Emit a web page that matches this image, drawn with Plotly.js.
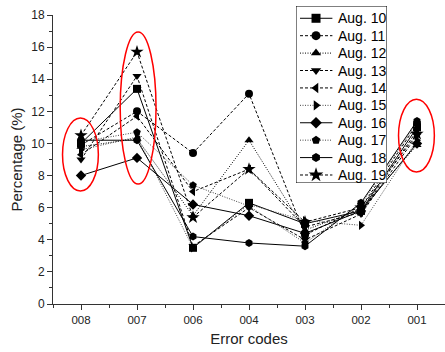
<!DOCTYPE html>
<html>
<head>
<meta charset="utf-8">
<script src="https://cdn.plot.ly/plotly-3.0.1.min.js"></script>
<style>html,body{margin:0;padding:0;background:#fff;}#chart{width:445px;height:352px;}</style>
</head>
<body>
<div id="chart"></div>
<script>
const categories = ["008", "007", "006", "004", "003", "002", "001"];
const seriesNames = ["Aug. 10", "Aug. 11", "Aug. 12", "Aug. 13", "Aug. 14", "Aug. 15", "Aug. 16", "Aug. 17", "Aug. 18", "Aug. 19"];
const aug10 = [10.0, 13.4, 3.5, 6.3, 5.0, 5.8, 11.0];
const aug11 = [9.9, 12.0, 9.4, 13.1, 4.3, 6.0, 11.2];
const aug12 = [9.8, 10.3, 5.5, 10.2, 4.6, 5.9, 9.9];
const aug13 = [9.0, 14.2, 3.6, 6.0, 4.0, 5.6, 10.5];
const aug14 = [9.3, 11.7, 7.0, 8.4, 4.8, 5.7, 10.8];
const aug15 = [9.6, 10.4, 3.5, 6.2, 5.2, 4.9, 10.2];
const aug16 = [8.0, 9.1, 6.2, 5.5, 4.4, 5.8, 10.0];
const aug17 = [10.1, 10.7, 7.4, 6.1, 3.8, 6.2, 11.3];
const aug18 = [10.2, 10.2, 4.2, 3.8, 3.6, 6.3, 11.4];
const aug19 = [10.5, 15.7, 5.4, 8.4, 5.1, 6.0, 10.6];
const allSeries = [aug10, aug11, aug12, aug13, aug14, aug15, aug16, aug17, aug18, aug19];

const symbols = ["square", "circle", "triangle-up", "triangle-down", "triangle-left", "triangle-right", "diamond", "pentagon", "hexagon", "star"];
const dashes = ["solid", "3px,2px", "1px,1.5px", "3px,2px", "3px,2px", "1px,1.5px", "solid", "1px,1.5px", "solid", "3px,2px"];
const lineColors = ["#000", "#000", "#000", "#000", "#000", "#444", "#000", "#444", "#000", "#000"];
const markerSizes = [8, 8, 8, 8, 8, 8, 8, 8, 8, 10];
const idx = categories.map((c, i) => i);

// data traces
const traces = allSeries.map((vals, k) => ({
  x: idx, y: vals, name: seriesNames[k], type: "scatter", mode: "lines+markers",
  xaxis: "x", yaxis: "y", showlegend: false, cliponaxis: false,
  line: {color: lineColors[k], width: 1, dash: dashes[k]},
  marker: {symbol: symbols[k], size: markerSizes[k], color: "#000"}
}));

// custom legend, drawn in its own small subplot (x2/y2) so it sits above the data
const lgX0 = 0.044, lgXm = 0.22, lgX1 = 0.40, lgText = 0.445;
traces.push({
  x: [0, 1, 1, 0, 0], y: [10.46, 10.46, 0.295, 0.295, 10.46], xaxis: "x2", yaxis: "y2",
  type: "scatter", mode: "lines", fill: "toself", fillcolor: "#fff",
  line: {color: "#000", width: 1}, showlegend: false, hoverinfo: "skip"
});
seriesNames.forEach((nm, k) => {
  traces.push({
    x: [lgX0, lgX1], y: [k + 1, k + 1], xaxis: "x2", yaxis: "y2",
    type: "scatter", mode: "lines", showlegend: false, hoverinfo: "skip", cliponaxis: false,
    line: {color: lineColors[k], width: 1, dash: dashes[k]}
  });
  traces.push({
    x: [lgXm], y: [k + 1], xaxis: "x2", yaxis: "y2",
    type: "scatter", mode: "markers", showlegend: false, hoverinfo: "skip", cliponaxis: false,
    marker: {symbol: symbols[k], size: markerSizes[k] + 1, color: "#000"}
  });
});
const legendTexts = seriesNames.map((nm, k) => ({
  xref: "x2", yref: "y2", x: lgText, y: k + 1, text: nm, showarrow: false,
  xanchor: "left", yanchor: "middle", font: {size: 14, color: "#000"}
}));

const ellipse = (x0, x1, y0, y1) => ({type: "circle", xref: "x", yref: "y", x0: x0, x1: x1, y0: y0, y1: y1, line: {color: "#ff0000", width: 1.5}});

const mainTop = 289 / 299;
const layout = {
  width: 445, height: 352,
  margin: {l: 53, r: 0, t: 5, b: 48},
  paper_bgcolor: "#fff", plot_bgcolor: "rgba(0,0,0,0)",
  font: {family: "Liberation Sans, Arial, sans-serif", color: "#222"},
  showlegend: false,
  xaxis: {domain: [0, 1], range: [-0.5, 6.5], tickvals: idx, ticktext: categories, showgrid: false, zeroline: false,
    showline: true, linecolor: "#333", linewidth: 1, ticks: "outside", ticklen: 5, tickcolor: "#333",
    minor: {tickvals: [-0.5, 0.5, 1.5, 2.5, 3.5, 4.5, 5.5], ticks: "outside", ticklen: 3, tickcolor: "#333", showgrid: false},
    tickfont: {size: 11.5, color: "#222"},
    title: {text: "Error codes", font: {size: 15, color: "#222"}, standoff: 8}},
  yaxis: {domain: [0, mainTop], range: [0, 18], dtick: 2, showgrid: false, zeroline: false,
    showline: true, linecolor: "#333", linewidth: 1, ticks: "outside", ticklen: 5, tickcolor: "#333",
    minor: {dtick: 1, ticks: "outside", ticklen: 3, tickcolor: "#333", showgrid: false},
    tickfont: {size: 12, color: "#222"},
    title: {text: "Percentage (%)", font: {size: 15, color: "#222"}, standoff: 4}},
  xaxis2: {domain: [0.6199, 0.852], range: [0, 1], visible: false, fixedrange: true, anchor: "y2"},
  yaxis2: {domain: [(304 - 183) / 299, 1 - 1 / 299], range: [10.46, 0.295], visible: false, fixedrange: true, anchor: "x2"},
  shapes: [ellipse(-0.33, 0.31, 7.04, 11.58), ellipse(0.70, 1.34, 7.47, 16.94), ellipse(5.67, 6.31, 8.22, 12.76)],
  annotations: legendTexts
};

Plotly.newPlot("chart", traces, layout, {displayModeBar: false, staticPlot: true});
</script>
</body>
</html>
